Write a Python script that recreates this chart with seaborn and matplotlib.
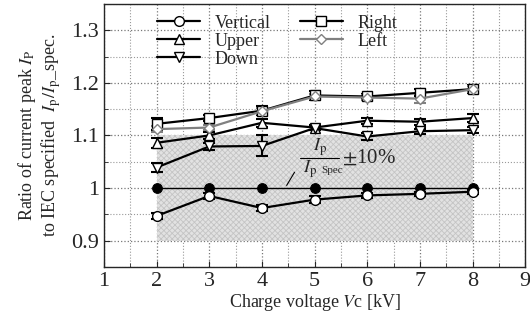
import numpy as np
import pandas as pd
import matplotlib
matplotlib.use("Agg")
import matplotlib.pyplot as plt
import seaborn as sns
from matplotlib.ticker import MultipleLocator

x = [2, 3, 4, 5, 6, 7, 8]
vertical = [0.947, 0.985, 0.962, 0.978, 0.986, 0.989, 0.993]
vertical_err = [0.005, 0.006, 0.005, 0.007, 0.004, 0.004, 0.004]
upper = [1.086, 1.100, 1.124, 1.115, 1.128, 1.126, 1.133]
upper_err = [0.010, 0.006, 0.008, 0.004, 0.006, 0.006, 0.008]
down = [1.039, 1.079, 1.080, 1.114, 1.098, 1.108, 1.110]
down_err = [0.008, 0.006, 0.020, 0.004, 0.006, 0.005, 0.006]
right = [1.122, 1.133, 1.147, 1.176, 1.174, 1.181, 1.188]
right_err = [0.012, 0.006, 0.008, 0.009, 0.004, 0.007, 0.008]
left = [1.112, 1.115, 1.146, 1.174, 1.172, 1.170, 1.188]
left_err = [0.006, 0.005, 0.006, 0.005, 0.005, 0.008, 0.006]
reference = [1.0, 1.0, 1.0, 1.0, 1.0, 1.0, 1.0]

sns.set_style("ticks")
plt.rcParams['font.family'] = ['Liberation Serif', 'DejaVu Serif']
plt.rcParams['mathtext.fontset'] = 'stix'
plt.rcParams['hatch.linewidth'] = 0.6

fig = plt.figure(figsize=(5.3, 3.24), dpi=100)
ax = fig.add_axes([0.196, 0.176, 0.795, 0.812])

ax.set_xlim(1, 9)
ax.set_ylim(0.85, 1.35)
ax.xaxis.set_major_locator(MultipleLocator(1))
ax.xaxis.set_minor_locator(MultipleLocator(0.5))
ax.yaxis.set_major_locator(MultipleLocator(0.1))
ax.yaxis.set_minor_locator(MultipleLocator(0.05))
ax.grid(True, which='major', linestyle=':', color='#777777', linewidth=0.9)
ax.grid(True, which='minor', linestyle=':', color='#999999', linewidth=0.8)
ax.set_axisbelow(True)

ax.fill_between([2, 8], 0.9, 1.1, facecolor='#e2e2e2', hatch='xxxxxx',
                edgecolor='#c4c4c4', linewidth=0, zorder=1)

# reference line
sns.lineplot(x=x, y=reference, ax=ax, color='black', linewidth=1.0, marker='o',
             markersize=7, markerfacecolor='black', markeredgecolor='black', zorder=3)

series = [
    ("Vertical", vertical, vertical_err, 'o', 'black'),
    ("Upper", upper, upper_err, '^', 'black'),
    ("Down", down, down_err, 'v', 'black'),
    ("Right", right, right_err, 's', 'black'),
    ("Left", left, left_err, 'D', '#808080'),
]
handles = {}
for name, y, e, m, c in series:
    ms = 7 if m != 'D' else 5.5
    ax.errorbar(x, y, yerr=e, fmt='none', ecolor=c, elinewidth=1.5, capsize=4,
                capthick=1.5, zorder=4)
    sns.lineplot(x=x, y=y, ax=ax, color=c, linewidth=1.6, marker=m,
                 markersize=ms, markerfacecolor='white',
                 markeredgecolor=c, markeredgewidth=1.0, zorder=5)
    handles[name] = plt.Line2D([], [], color=c, linewidth=1.6, marker=m,
                               markersize=ms, markerfacecolor='white',
                               markeredgecolor=c)

order = ["Vertical", "Upper", "Down", "Right", "Left"]
leg = ax.legend([handles[n] for n in order], order, ncol=2, loc='upper left',
                bbox_to_anchor=(0.1, 1.0), frameon=False, fontsize=13,
                handlelength=2.4, handletextpad=0.8, columnspacing=1.6,
                labelspacing=0.05, borderaxespad=0.2)

ax.text(5.1, 1.077, r'$I_{\rm p}$', fontsize=13, ha='center', va='center', zorder=6)
ax.plot([4.73, 5.47], [1.058, 1.058], color='black', linewidth=0.8, zorder=6)
ax.text(5.05, 1.036, r'$I_{\rm p}$', fontsize=13, ha='right', va='center', zorder=6)
ax.text(5.12, 1.033, 'Spec', fontsize=8, ha='left', va='center', zorder=6)
ax.text(5.53, 1.058, r'$\pm$10%', fontsize=15, ha='left', va='center', zorder=6)
ax.plot([4.47, 4.62], [1.005, 1.030], color='black', linewidth=0.8, zorder=6)

ax.tick_params(axis='both', which='both', direction='in', labelsize=16)
ax.tick_params(axis='both', which='major', length=4)
ax.tick_params(axis='both', which='minor', length=3)
ax.set_yticks([0.9, 1.0, 1.1, 1.2, 1.3])
ax.set_yticklabels(['0.9', '1', '1.1', '1.2', '1.3'])
for s in ax.spines.values():
    s.set_linewidth(1.0)

ax.set_xlabel(r'Charge voltage $V$c [kV]', fontsize=13, labelpad=1)
ax.set_ylabel('Ratio of current peak $I_{\\rm P}$\nto IEC specified  $I_{\\rm p}/I_{\\rm p}$_spec.',
              fontsize=13, labelpad=6, linespacing=1.1)

fig.savefig('out.png', dpi=100)
